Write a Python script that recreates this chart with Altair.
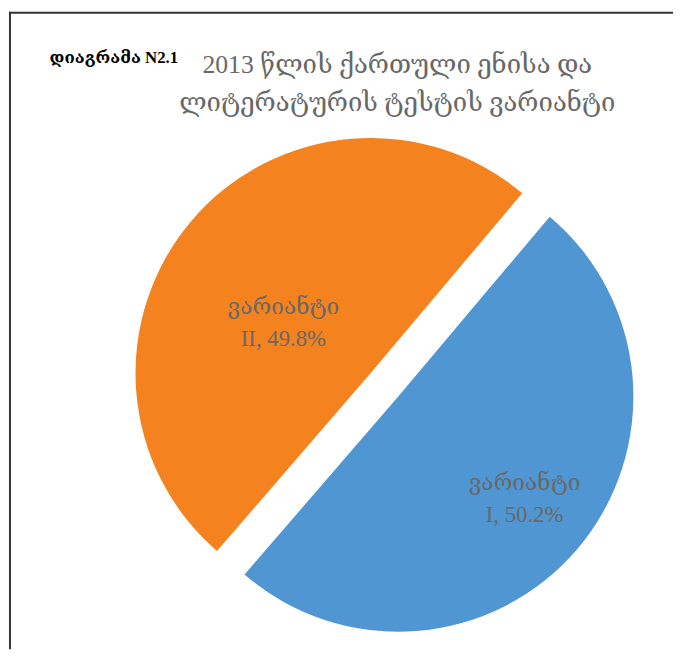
import altair as alt
import pandas as pd

# ---- data ----
categories = ["I", "II"]
values = [50.2, 49.8]
word = "ვარიანტი"
title_lines = ["2013 წლის ქართული ენისა და", "ლიტერატურის ტესტის ვარიანტი"]
caption = "დიაგრამა N2.1"
colors = ["#5096D2", "#F4821F"]

df = pd.DataFrame({"cat": categories, "value": values, "order": list(range(len(categories)))})

# ---- layout / style ----
W, H = 673, 645
CX, CY = 381, 377.5
R = 238
EXPLODE = 18.3
START = 0.6999  # rotation of first slice (radians)
FONT = "Liberation Serif, DejaVu Serif, serif"
GREY = "#686868"

base = (
    alt.Chart(df)
    .transform_joinaggregate(total="sum(value)")
    .transform_window(cum="sum(value)", sort=[alt.SortField("order")])
    .transform_calculate(t0=f"{START} + 2*PI*(datum.cum - datum.value)/datum.total")
    .transform_calculate(t1=f"{START} + 2*PI*datum.cum/datum.total")
    .transform_calculate(mid="(datum.t0 + datum.t1)/2")
    .transform_calculate(px=f"{CX} + {EXPLODE}*sin(datum.mid)")
    .transform_calculate(py=f"{CY} - {EXPLODE}*cos(datum.mid)")
    .transform_calculate(label=f"'{word}' + '\\n' + datum.cat + ', ' + format(datum.value, '.1f') + '%'")
)

xy = dict(
    x=alt.X("px:Q", scale=None, axis=None),
    y=alt.Y("py:Q", scale=None, axis=None),
)

arcs = base.mark_arc(radius=R).encode(
    theta=alt.Theta("t0:Q", scale=None, stack=False),
    theta2="t1:Q",
    color=alt.Color("cat:N", scale=alt.Scale(domain=categories, range=colors), legend=None),
    **xy,
)

def label_layer(cat, radius, dx, dy):
    return base.transform_filter(alt.datum.cat == cat).mark_text(
        radius=radius, dx=dx, dy=dy, font=FONT, fontSize=23, color=GREY,
        align="center", baseline="middle", lineBreak="\n", lineHeight=32,
    ).encode(
        theta=alt.Theta("mid:Q", scale=None, stack=False),
        text="label:N",
        **xy,
    )

lab1 = label_layer("I", 168, 0, -21)
lab2 = label_layer("II", 103, -10, 0)

one = pd.DataFrame({"t": ["\n".join(title_lines)], "c": [caption]})

title = alt.Chart(one).mark_text(
    font=FONT, fontSize=26, color=GREY, align="center", baseline="middle",
    lineBreak="\n", lineHeight=38,
).encode(text="t:N", x=alt.value(394), y=alt.value(54))

cap = alt.Chart(one).mark_text(
    font=FONT, fontSize=17, color="#000000", align="left", baseline="middle", fontWeight="bold",
).encode(text="c:N", x=alt.value(42), y=alt.value(47))

left_border = alt.Chart(one).mark_rule(color="#333333", strokeWidth=2).encode(
    x=alt.value(2), y=alt.value(0), y2=alt.value(H)
)
top_border = alt.Chart(one).mark_rule(color="#333333", strokeWidth=2).encode(
    y=alt.value(1), x=alt.value(1), x2=alt.value(W)
)

chart = (
    alt.layer(arcs, lab1, lab2, title, cap, left_border, top_border)
    .properties(width=W, height=H, padding=0, autosize=alt.AutoSizeParams(type="none"))
    .configure_view(stroke=None)
)

chart.save("out.html", embed_options={"renderer": "svg", "actions": False})
